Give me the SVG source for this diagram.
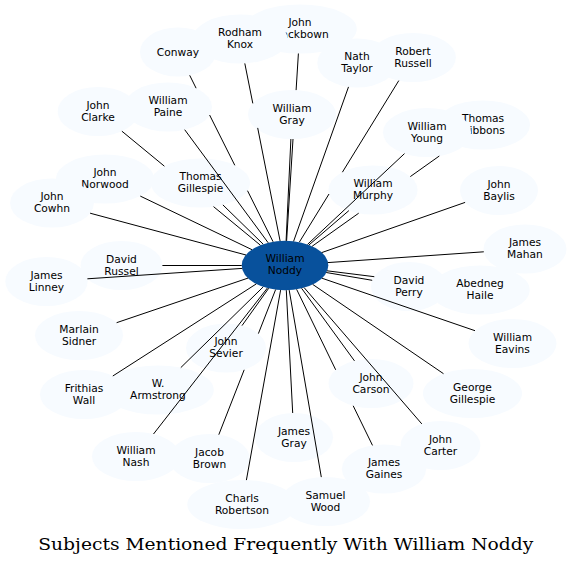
<svg xmlns="http://www.w3.org/2000/svg" width="572" height="566" viewBox="0 0 572 566">
<style>
.n ellipse{fill:#f7fbff;stroke:none}
.c ellipse{fill:#08519c;stroke:none}
text{font-family:"DejaVu Sans","Noto Sans",sans-serif;font-size:10.67px;fill:#000;text-anchor:middle}
.e path{fill:none;stroke:#000;stroke-width:1}
.title{font-family:"DejaVu Serif","Liberation Serif",serif;font-size:16.5px}
</style>
<rect width="572" height="566" fill="#fff"/>
<g id="nodes">
<g id="n-blackbown" class="n"><ellipse cx="300" cy="29" rx="56.8" ry="24.5"/><text><tspan x="300" y="26">John</tspan><tspan x="300" y="38">Blackbown</tspan></text></g>
<g id="n-knox" class="n"><ellipse cx="240" cy="39" rx="47.5" ry="24.5"/><text><tspan x="240" y="36">Rodham</tspan><tspan x="240" y="48">Knox</tspan></text></g>
<g id="n-conway" class="n"><ellipse cx="178" cy="52" rx="38" ry="24.5"/><text x="178" y="55.8">Conway</text></g>
<g id="n-taylor" class="n"><ellipse cx="357" cy="63" rx="39.7" ry="24.5"/><text><tspan x="357" y="60">Nath</tspan><tspan x="357" y="72">Taylor</tspan></text></g>
<g id="n-russell" class="n"><ellipse cx="413" cy="57.5" rx="42.9" ry="24.5"/><text><tspan x="413" y="54.5">Robert</tspan><tspan x="413" y="66.5">Russell</tspan></text></g>
<g id="n-clarke" class="n"><ellipse cx="98" cy="111.5" rx="40.3" ry="24.5"/><text><tspan x="98" y="108.5">John</tspan><tspan x="98" y="120.5">Clarke</tspan></text></g>
<g id="n-paine" class="n"><ellipse cx="168" cy="107" rx="44" ry="24.5"/><text><tspan x="168" y="104">William</tspan><tspan x="168" y="116">Paine</tspan></text></g>
<g id="n-wgray" class="n"><ellipse cx="292" cy="114.5" rx="44" ry="24.5"/><text><tspan x="292" y="111.5">William</tspan><tspan x="292" y="123.5">Gray</tspan></text></g>
<g id="n-gibbons" class="n"><ellipse cx="483" cy="125" rx="47" ry="24.5"/><text><tspan x="483" y="122">Thomas</tspan><tspan x="483" y="134">Gibbons</tspan></text></g>
<g id="n-young" class="n"><ellipse cx="427" cy="132.5" rx="44" ry="24.5"/><text><tspan x="427" y="129.5">William</tspan><tspan x="427" y="141.5">Young</tspan></text></g>
<g id="n-norwood" class="n"><ellipse cx="105" cy="179" rx="49" ry="24.5"/><text><tspan x="105" y="176">John</tspan><tspan x="105" y="188">Norwood</tspan></text></g>
<g id="n-cowhn" class="n"><ellipse cx="52" cy="203" rx="41.9" ry="24.5"/><text><tspan x="52" y="200">John</tspan><tspan x="52" y="212">Cowhn</tspan></text></g>
<g id="n-tgillespie" class="n"><ellipse cx="200.5" cy="183" rx="49.5" ry="24.5"/><text><tspan x="200.5" y="180">Thomas</tspan><tspan x="200.5" y="192">Gillespie</tspan></text></g>
<g id="n-murphy" class="n"><ellipse cx="373" cy="190" rx="44.6" ry="24.5"/><text><tspan x="373" y="187">William</tspan><tspan x="373" y="199">Murphy</tspan></text></g>
<g id="n-baylis" class="n"><ellipse cx="499" cy="190.5" rx="39" ry="24.5"/><text><tspan x="499" y="187.5">John</tspan><tspan x="499" y="199.5">Baylis</tspan></text></g>
<g id="n-mahan" class="n"><ellipse cx="525" cy="249" rx="41.5" ry="24.5"/><text><tspan x="525" y="246">James</tspan><tspan x="525" y="258">Mahan</tspan></text></g>
<g id="n-drussel" class="n"><ellipse cx="121.5" cy="265.5" rx="40.9" ry="24.5"/><text><tspan x="121.5" y="262.5">David</tspan><tspan x="121.5" y="274.5">Russel</tspan></text></g>
<g id="n-linney" class="n"><ellipse cx="46.5" cy="281.5" rx="41.2" ry="24.5"/><text><tspan x="46.5" y="278.5">James</tspan><tspan x="46.5" y="290.5">Linney</tspan></text></g>
<g id="n-haile" class="n"><ellipse cx="480" cy="290" rx="49.7" ry="24.5"/><text><tspan x="480" y="287">Abedneg</tspan><tspan x="480" y="299">Haile</tspan></text></g>
<g id="n-perry" class="n"><ellipse cx="409" cy="286.5" rx="38" ry="24.5"/><text><tspan x="409" y="283.5">David</tspan><tspan x="409" y="295.5">Perry</tspan></text></g>
<g id="n-sidner" class="n"><ellipse cx="79" cy="335.5" rx="44" ry="24.5"/><text><tspan x="79" y="332.5">Marlain</tspan><tspan x="79" y="344.5">Sidner</tspan></text></g>
<g id="n-eavins" class="n"><ellipse cx="512.5" cy="343.5" rx="44" ry="24.5"/><text><tspan x="512.5" y="340.5">William</tspan><tspan x="512.5" y="352.5">Eavins</tspan></text></g>
<g id="n-sevier" class="n"><ellipse cx="226" cy="348" rx="40" ry="24.5"/><text><tspan x="226" y="345">John</tspan><tspan x="226" y="357">Sevier</tspan></text></g>
<g id="n-armstrong" class="n"><ellipse cx="158" cy="390" rx="55.8" ry="24.5"/><text><tspan x="158" y="387">W.</tspan><tspan x="158" y="399">Armstrong</tspan></text></g>
<g id="n-wall" class="n"><ellipse cx="84" cy="394.5" rx="44" ry="24.5"/><text><tspan x="84" y="391.5">Frithias</tspan><tspan x="84" y="403.5">Wall</tspan></text></g>
<g id="n-carson" class="n"><ellipse cx="371" cy="383.5" rx="42.5" ry="24.5"/><text><tspan x="371" y="380.5">John</tspan><tspan x="371" y="392.5">Carson</tspan></text></g>
<g id="n-ggillespie" class="n"><ellipse cx="472.5" cy="393.5" rx="49.5" ry="24.5"/><text><tspan x="472.5" y="390.5">George</tspan><tspan x="472.5" y="402.5">Gillespie</tspan></text></g>
<g id="n-nash" class="n"><ellipse cx="136" cy="456.5" rx="44" ry="24.5"/><text><tspan x="136" y="453.5">William</tspan><tspan x="136" y="465.5">Nash</tspan></text></g>
<g id="n-brown" class="n"><ellipse cx="209.5" cy="458.5" rx="40.1" ry="24.5"/><text><tspan x="209.5" y="455.5">Jacob</tspan><tspan x="209.5" y="467.5">Brown</tspan></text></g>
<g id="n-jgray" class="n"><ellipse cx="294" cy="437.5" rx="39" ry="24.5"/><text><tspan x="294" y="434.5">James</tspan><tspan x="294" y="446.5">Gray</tspan></text></g>
<g id="n-carter" class="n"><ellipse cx="440.5" cy="445.5" rx="39.9" ry="24.5"/><text><tspan x="440.5" y="442.5">John</tspan><tspan x="440.5" y="454.5">Carter</tspan></text></g>
<g id="n-gaines" class="n"><ellipse cx="384" cy="469" rx="42.1" ry="24.5"/><text><tspan x="384" y="466">James</tspan><tspan x="384" y="478">Gaines</tspan></text></g>
<g id="n-robertson" class="n"><ellipse cx="242" cy="504.5" rx="54.7" ry="24.5"/><text><tspan x="242" y="501.5">Charls</tspan><tspan x="242" y="513.5">Robertson</tspan></text></g>
<g id="n-wood" class="n"><ellipse cx="325.5" cy="501.5" rx="44.5" ry="24.5"/><text><tspan x="325.5" y="498.5">Samuel</tspan><tspan x="325.5" y="510.5">Wood</tspan></text></g>
<g id="n-noddy" class="c"><ellipse cx="285" cy="265.5" rx="43.3" ry="24.7"/><text><tspan x="285" y="262">William</tspan><tspan x="285" y="274">Noddy</tspan></text></g>
</g>
<g id="connectors" class="e">
<path d="M273.1,241.8 L247.5,190.7 M234.8,165.3 L209.6,115 M196.1,88.2 L189.7,75.3"/>
<path d="M280.1,241 L257.7,127.9 M252.8,103.4 L244.8,63.4"/>
<path d="M286.6,240.8 L293,139 M296.1,90.1 L298.4,53.5"/>
<path d="M293.6,241.3 L348.5,86.9"/>
<path d="M299.3,242.2 L329,194 M342.4,172.2 L398.8,80.6"/>
<path d="M268.2,242.8 L184.7,129.7"/>
<path d="M260.4,245.2 L213.5,206.6 M164.4,166.2 L121.9,131.2"/>
<path d="M286.1,240.8 L290.9,139"/>
<path d="M307.5,244.4 L404.5,153.6"/>
<path d="M312.1,246.3 L358.7,213.2 M410.3,176.6 L439.3,156"/>
<path d="M252,249.7 L140.3,196.1"/>
<path d="M263.2,244.2 L222.9,204.9"/>
<path d="M246,255 L90.1,213.2"/>
<path d="M308.9,245 L348.9,210.6"/>
<path d="M321.7,252.6 L465.1,202.4"/>
<path d="M327.7,262.6 L483.8,251.8"/>
<path d="M241.7,265.5 L162.4,265.5"/>
<path d="M242.3,268.4 L87.4,278.8"/>
<path d="M326.2,272.5 L372.2,280.3"/>
<path d="M327,270.8 L374.3,276.7"/>
<path d="M248,278.1 L116.6,322.7"/>
<path d="M321.9,278.2 L475,330.7"/>
<path d="M268.7,288.3 L242,325.6"/>
<path d="M256.3,283.9 L112.8,376"/>
<path d="M263.3,286.8 L180.8,367.6"/>
<path d="M267.4,288 L153.5,434"/>
<path d="M275.6,289.6 L258.4,333.6 M244.2,369.8 L218.8,434.7"/>
<path d="M301.6,288.3 L354.5,360.9"/>
<path d="M312.7,284.4 L443.5,373.7"/>
<path d="M286.3,290.2 L292.7,413"/>
<path d="M304.1,287.6 L421.8,423.9"/>
<path d="M296.6,289.3 L335.7,369.8 M353.2,405.8 L372.5,445.4"/>
<path d="M280.6,290.1 L246.4,480.1"/>
<path d="M289.2,290.1 L321.3,477.1"/>
</g>
<text class="title" x="285.8" y="549.5" textLength="495" lengthAdjust="spacingAndGlyphs">Subjects Mentioned Frequently With William Noddy</text>
</svg>
